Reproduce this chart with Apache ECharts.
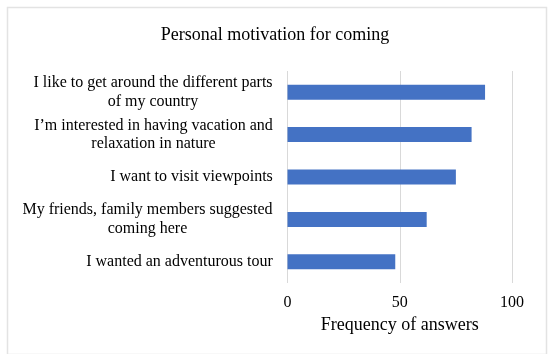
<!DOCTYPE html>
<html>
<head>
<meta charset="utf-8">
<script src="https://cdn.jsdelivr.net/npm/echarts@6/dist/echarts.min.js"></script>
<style>html,body{margin:0;padding:0;background:#fff;}#c{width:550px;height:354px;}</style>
</head>
<body>
<div id="c"></div>
<script>
var categories = [
  "I like to get around the different parts\nof my country",
  "I\u2019m interested in having vacation and\nrelaxation in nature",
  "I want to visit viewpoints",
  "My friends, family members suggested\ncoming here",
  "I wanted an adventurous tour"
];
var values = [88, 82, 75, 62, 48];
var xTicks = [0, 50, 100];
var titleText = "Personal motivation for coming";
var xAxisName = "Frequency of answers";

var FONT = "'Liberation Serif', 'Times New Roman', serif";
var LABEL_SIZE = 16;
var ctx = document.createElement('canvas').getContext('2d');
ctx.font = LABEL_SIZE + 'px ' + FONT;
var rich = {};
categories.forEach(function (c, i) {
  var w = 0;
  c.split('\n').forEach(function (l) { w = Math.max(w, ctx.measureText(l).width); });
  rich['c' + i] = { width: Math.ceil(w) + 1, align: 'center', fontFamily: FONT, fontSize: LABEL_SIZE, color: '#000', lineHeight: 18.5 };
});

var chart = echarts.init(document.getElementById('c'), null, { renderer: 'canvas' });
chart.setOption({
  animation: false,
  backgroundColor: '#fff',
  title: {
    text: titleText, left: 'center', top: 21,
    textStyle: { fontFamily: FONT, fontSize: 18, fontWeight: 'normal', color: '#000' }
  },
  graphic: [{
    type: 'rect', left: 5, top: 5,
    shape: { width: 539, height: 347 },
    style: { fill: 'none', stroke: '#e3e3e3', lineWidth: 1.5 }, silent: true
  }],
  grid: { left: 287.5, right: 38, top: 71, height: 212, containLabel: false },
  xAxis: {
    type: 'value', min: 0, max: 100, interval: 50,
    name: xAxisName, nameLocation: 'middle', nameGap: 33,
    nameTextStyle: { fontFamily: FONT, fontSize: 18, color: '#000' },
    axisLine: { show: false }, axisTick: { show: false },
    axisLabel: { fontFamily: FONT, fontSize: 16, color: '#000', margin: 12,
      formatter: function (v) { return xTicks.indexOf(v) >= 0 ? String(v) : ''; } },
    splitLine: { show: true, lineStyle: { color: '#d9d9d9', width: 1 } }
  },
  yAxis: {
    type: 'category', data: categories, inverse: true,
    axisLine: { show: false }, axisTick: { show: false },
    axisLabel: {
      margin: 14, align: 'right', rich: rich,
      formatter: function (v, i) {
        return v.split('\n').map(function (l) { return '{c' + i + '|' + l + '}'; }).join('\n');
      }
    }
  },
  series: [{
    type: 'bar', data: values, barWidth: 15,
    itemStyle: { color: '#4472c4' }
  }]
});
</script>
</body>
</html>
